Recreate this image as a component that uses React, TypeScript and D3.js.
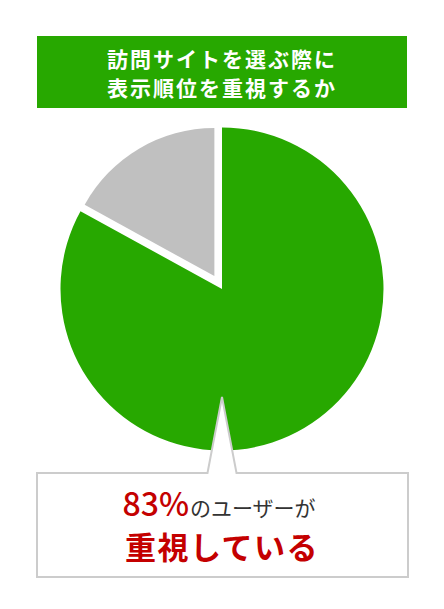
import { useMemo } from 'react';
import * as d3 from 'd3';

// Survey answers (percent of users)
const categories = ['重視する', '重視しない'];
const shares = [83, 17];
const sliceColors = ['#27a800', '#c0c0c0'];

const titleLines = ['訪問サイトを選ぶ際に', '表示順位を重視するか'];
const highlightValue = '83%';
const calloutRest = 'のユーザーが';
const calloutLine2 = '重視している';

const W = 444;
const H = 609;
const FONT = '"Noto Sans CJK JP", "Noto Sans", sans-serif';

export default function App() {
  const cx = 222;
  const cy = 289;
  const radius = 161.5;

  const arcs = useMemo(() => {
    const pie = d3
      .pie<number>()
      .sort(null)
      .value((d) => d);
    return pie(shares);
  }, []);

  const mainArc = d3.arc<d3.PieArcDatum<number>>().innerRadius(0).outerRadius(radius);
  const minorArc = d3.arc<d3.PieArcDatum<number>>().innerRadius(0).outerRadius(radius - 13.5);

  // callout box
  const box = { x: 37, y: 473, w: 371, h: 104 };
  const tip = { x: 222, y: 397 };
  const pointerHalf = 14.5;
  const calloutPath = [
    `M${box.x},${box.y}`,
    `L${tip.x - pointerHalf},${box.y}`,
    `L${tip.x},${tip.y}`,
    `L${tip.x + pointerHalf},${box.y}`,
    `L${box.x + box.w},${box.y}`,
    `L${box.x + box.w},${box.y + box.h}`,
    `L${box.x},${box.y + box.h}`,
    'Z',
  ].join(' ');

  return (
    <svg
      width={W}
      height={H}
      style={{ position: 'absolute', left: 0, top: 0, background: '#fff' }}
      fontFamily={FONT}
    >
      {/* Title band */}
      <rect x={37} y={36} width={370} height={72} fill="#27a800" />
      {titleLines.map((line, i) => (
        <text
          key={line}
          x={222}
          y={58 + i * 29}
          textAnchor="middle"
          dominantBaseline="central"
          fill="#fff"
          fontSize={21}
          fontWeight="bold"
          letterSpacing={2}
        >
          {line}
        </text>
      ))}

      {/* Pie */}
      <g transform={`translate(${cx},${cy})`}>
        {arcs.map((a, i) => {
          if (i === 0) {
            return <path key={categories[i]} d={mainArc(a) ?? ''} fill={sliceColors[i]} />;
          }
          // exploded minor slice
          const mid = (a.startAngle + a.endAngle) / 2;
          const off = 15;
          const dx = Math.sin(mid) * off;
          const dy = -Math.cos(mid) * off;
          return (
            <path
              key={categories[i]}
              d={minorArc(a) ?? ''}
              fill={sliceColors[i]}
              transform={`translate(${dx},${dy})`}
            />
          );
        })}
      </g>

      {/* Callout */}
      <path d={calloutPath} fill="#fff" stroke="#cccccc" strokeWidth={2} strokeLinejoin="miter" />
      <text x={219} y={516} textAnchor="middle" fill="#333">
        <tspan fill="#c40000" fontSize={32} fontWeight={500}>
          {highlightValue}
        </tspan>
        <tspan fontSize={21} dx={1}>
          {calloutRest}
        </tspan>
      </text>
      <text
        x={222}
        y={545}
        textAnchor="middle"
        dominantBaseline="central"
        fill="#c40000"
        fontSize={31}
        fontWeight="bold"
        letterSpacing={1.5}
      >
        {calloutLine2}
      </text>
    </svg>
  );
}
